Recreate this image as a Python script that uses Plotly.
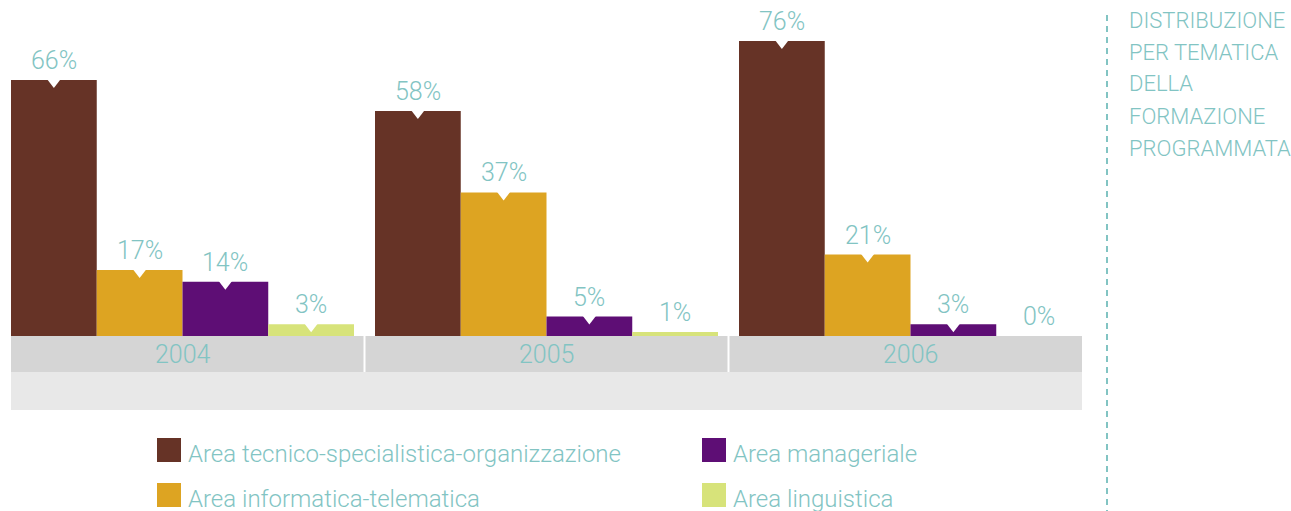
import plotly.graph_objects as go

# data
years = ["2004", "2005", "2006"]
areas = [
    "Area tecnico-specialistica-organizzazione",
    "Area informatica-telematica",
    "Area manageriale",
    "Area linguistica",
]
tecnico = [66, 58, 76]
informatica = [17, 37, 21]
manageriale = [14, 5, 3]
linguistica = [3, 1, 0]
side_title = ["DISTRIBUZIONE", "PER TEMATICA", "DELLA", "FORMAZIONE", "PROGRAMMATA"]

colors = ["#663326", "#DDA422", "#5E0E75", "#D7E37A"]
teal = "#82C4C3"
font_family = "Roboto, Liberation Sans, Arial, sans-serif"
font_weight = 300

W, H = 1291, 511
L, R, T, B = 11, 209, 0, 101
plot_w = W - L - R
plot_h = H - T - B

series = [tecnico, informatica, manageriale, linguistica]
gap = 21 / 364
bar_w = (1 - gap) / len(series)

# y scale: px per percent point, baseline at 336 px from top
ppu = 3.88
y_top = (336 - T) / ppu
y_bottom = -(T + plot_h - 336) / ppu
band1 = -36 / ppu


def px(x):
    return (x - L) / plot_w


def py(y):
    return (T + plot_h - y) / plot_h


def tfont(size):
    return dict(size=size, color=teal, family=font_family, weight=font_weight)


fig = go.Figure()

notch_x, notch_y = [], []
annotations = []
for k, (name, vals) in enumerate(zip(areas, series)):
    xs = [i + (k - 1.5) * bar_w for i in range(len(years))]
    fig.add_trace(
        go.Bar(
            x=xs,
            y=vals,
            width=bar_w,
            name=name,
            marker=dict(color=colors[k], line=dict(width=0)),
            showlegend=False,
            hoverinfo="skip",
        )
    )
    for x, v in zip(xs, vals):
        annotations.append(
            dict(
                x=x, y=v, xref="x", yref="y", text=f"{v}%",
                showarrow=False, yanchor="bottom", yshift=3,
                font=tfont(25),
            )
        )
        if v >= 3:
            notch_x.append(x)
            notch_y.append(v)

# small white notches on top of the bars
fig.add_trace(
    go.Scatter(
        x=notch_x, y=notch_y, mode="markers",
        marker=dict(symbol="triangle-down", size=16, color="white", line=dict(width=0)),
        showlegend=False, hoverinfo="skip",
    )
)

shapes = [
    dict(type="rect", xref="paper", yref="y", x0=0, x1=1, y0=band1, y1=0,
         fillcolor="#D5D5D5", line=dict(width=0), layer="below"),
    dict(type="rect", xref="paper", yref="y", x0=0, x1=1, y0=y_bottom, y1=band1,
         fillcolor="#E8E8E8", line=dict(width=0), layer="below"),
]
for i in range(len(years) - 1):
    shapes.append(dict(type="line", xref="x", yref="y", x0=i + 0.5, x1=i + 0.5,
                       y0=band1, y1=0, line=dict(color="white", width=2)))

# dashed divider on the right
shapes.append(dict(type="line", xref="paper", yref="paper", x0=px(1107), x1=px(1107),
                   y0=py(15), y1=py(511), line=dict(color=teal, width=2, dash="6px,5px")))

for i, yr in enumerate(years):
    annotations.append(
        dict(x=i, y=band1 / 2, xref="x", yref="y", text=yr, showarrow=False,
             font=tfont(25))
    )

for j, line in enumerate(side_title):
    annotations.append(
        dict(x=px(1127), y=py(20 + j * 32), xref="paper", yref="paper", text=line,
             showarrow=False, xanchor="left", yanchor="middle",
             font=tfont(22))
    )

# legend drawn by hand (two columns, large squares)
legend_pos = [(157, 450), (157, 495), (702, 450), (702, 495)]
for k, name in enumerate(areas):
    x0, yc = legend_pos[k]
    shapes.append(dict(type="rect", xref="paper", yref="paper",
                       x0=px(x0), x1=px(x0 + 24), y0=py(yc - 12), y1=py(yc + 12),
                       fillcolor=colors[k], line=dict(width=0)))
    annotations.append(
        dict(x=px(x0 + 29), y=py(yc + 4), xref="paper", yref="paper", text=name,
             showarrow=False, xanchor="left", yanchor="middle",
             font=tfont(24))
    )

fig.update_layout(
    width=W,
    height=H,
    margin=dict(l=L, r=R, t=T, b=B),
    paper_bgcolor="white",
    plot_bgcolor="white",
    barmode="overlay",
    xaxis=dict(range=[-0.5 + gap / 2, len(years) - 0.5 - gap / 2], visible=False, fixedrange=True),
    yaxis=dict(range=[y_bottom, y_top], visible=False, fixedrange=True),
    shapes=shapes,
    annotations=annotations,
    showlegend=False,
)

# page body has a default 8px margin; remove it so the figure sits at the top-left corner
fig.write_html(
    "out.html",
    config={"displayModeBar": False},
    post_script="document.body.style.margin='0px';",
)
